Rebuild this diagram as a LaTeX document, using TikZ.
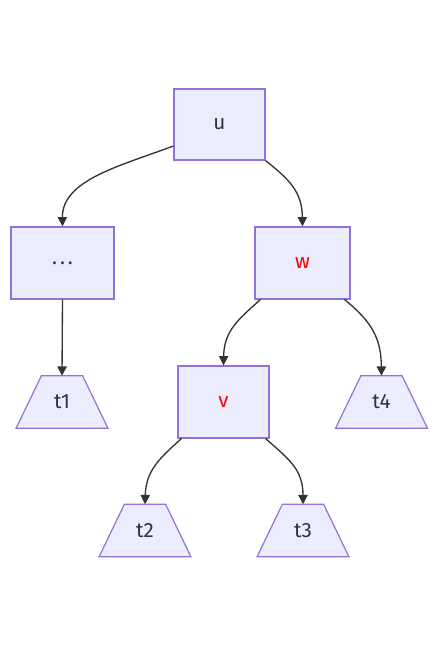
\documentclass[tikz,border=0pt]{standalone}
\usepackage{fontspec}
\setmainfont{Fira Sans}
\usetikzlibrary{arrows.meta,backgrounds}
\definecolor{boxfill}{HTML}{ECECFF}
\definecolor{boxline}{HTML}{9370DB}
\definecolor{ink}{HTML}{333333}
\begin{document}
\begin{tikzpicture}[x=0.75pt,y=-0.75pt,
  every node/.style={font=\fontsize{15.5pt}{18pt}\selectfont, text=ink},
  box/.style={draw=boxline, fill=boxfill, line width=0.9pt, inner sep=0pt,
    minimum height=54pt},
  leaf/.style={inner sep=0pt, minimum width=30.5pt, minimum height=39pt},
  leafshape/.style={draw=boxline, fill=boxfill, line width=0.9pt, line join=miter},
  edge/.style={draw=ink, line width=1pt, -{Triangle[length=7pt,width=7pt]}},
  hl/.style={text=red}]
\useasboundingbox (0,0) rectangle (438,646);

% inner tree nodes
\node[box, minimum width=68.25pt, minimum height=53.25pt] (u) at (219.5,124.5) {u};
\node[box, minimum width=77.25pt] (dots) at (62.5,263) {.\kern2.2pt.\kern2.2pt.};
\node[box, minimum width=71.25pt, hl] (w) at (302.5,263) {w};
\node[box, minimum width=68.25pt, hl] (v) at (223.5,402) {v};

% subtrees (trapezoids drawn behind their labels)
\node[leaf] (t1) at (62,402) {t1};
\node[leaf] (t4) at (381.5,402) {t4};
\node[leaf] (t2) at (145,530.5) {t2};
\node[leaf] (t3) at (303,530.5) {t3};
\begin{scope}[on background layer]
  \foreach \t in {t1,t2,t3,t4}
    \path[leafshape] (\t.north west) -- (\t.north east)
      -- ([xshift=19pt]\t.south east) -- ([xshift=-19pt]\t.south west) -- cycle;
\end{scope}

% connectors
\draw[edge] (u.205) .. controls (120,166) and (62,180) .. (dots.north);
\draw[edge] (u.south east) .. controls (290,180) and (302,192) .. (w.north);
\draw[edge] (dots.south) -- (t1.north);
\draw[edge] (w.221.6) .. controls (240,318) and (224,330) .. (v.north);
\draw[edge] (w.-41) .. controls (372,322) and (381,338) .. (t4.north);
\draw[edge] (v.221.6) .. controls (160,458) and (146,470) .. (t2.north);
\draw[edge] (v.-41) .. controls (290,460) and (303,470) .. (t3.north);
\end{tikzpicture}
\end{document}
